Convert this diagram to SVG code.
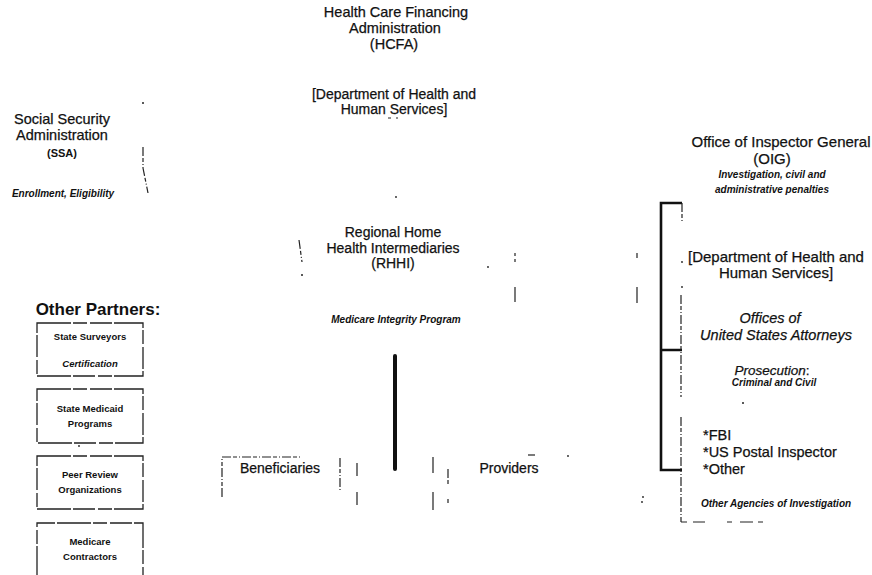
<svg xmlns="http://www.w3.org/2000/svg" width="872" height="575" viewBox="0 0 872 575">
<style>
text{font-family:"Liberation Sans",Arial,sans-serif;fill:#111;text-anchor:middle;stroke:#111;stroke-width:0.25}
.m{font-size:14px}
.h{font-size:14.5px}
.o{font-size:15px}
.si{font-size:10px;font-weight:bold;font-style:italic;stroke-width:0}
.it{font-style:italic}
.b{font-weight:bold;stroke-width:0}
.pb{font-size:9.5px;font-weight:bold;stroke-width:0}
.frag{stroke:#222;stroke-width:1.2;fill:none}
.dash{stroke:#222;stroke-width:1.2;fill:none;stroke-dasharray:9 2 4 2 1 2}
.box{stroke:#222;stroke-width:1.3;fill:none;stroke-dasharray:34 2 14 3 22 2}
.thick{stroke:#111;fill:none}
</style>
<rect width="872" height="575" fill="#fff"/>
<g id="hcfa">
<text class="h" x="396" y="17">Health Care Financing</text>
<text class="h" x="395" y="33">Administration</text>
<text class="h" x="394" y="49">(HCFA)</text>
<text class="m" x="394" y="99">[Department of Health and</text>
<text class="m" x="394" y="114">Human Services]</text>
</g>
<g id="ssa">
<text class="h" x="62" y="124">Social Security</text>
<text class="h" x="62" y="140">Administration</text>
<text class="b" x="62" y="157" font-size="11">(SSA)</text>
<text class="si" x="63" y="197">Enrollment, Eligibility</text>
</g>
<g id="oig">
<text class="o" x="781" y="147">Office of Inspector General</text>
<text class="o" x="772" y="164">(OIG)</text>
<text class="si" x="772" y="178">Investigation, civil and</text>
<text class="si" x="772" y="193">administrative penalties</text>
<text class="o" x="776" y="262">[Department of Health and</text>
<text class="o" x="776" y="278">Human Services]</text>
</g>
<g id="usattorneys">
<text class="h it" x="770" y="323">Offices of</text>
<text class="h it" x="776" y="340">United States Attorneys</text>
<text x="772" y="375" font-size="13.5"><tspan font-style="italic">Prosecution</tspan>:</text>
<text class="si" x="774" y="386" font-size="9.5">Criminal and Civil</text>
</g>
<g id="investigation">
<text class="h" x="703" y="440" style="text-anchor:start">*FBI</text>
<text class="h" x="703" y="457" style="text-anchor:start">*US Postal Inspector</text>
<text class="h" x="703" y="474" style="text-anchor:start">*Other</text>
<text class="si" x="776" y="507">Other Agencies of Investigation</text>
</g>
<g id="rhhi">
<text class="m" x="393" y="237">Regional Home</text>
<text class="m" x="393" y="253">Health Intermediaries</text>
<text class="m" x="393" y="268">(RHHI)</text>
<text class="si" x="396" y="323" font-size="9.5">Medicare Integrity Program</text>
</g>
<g id="beneficiaries">
<text class="m" x="280" y="473">Beneficiaries</text>
</g>
<g id="providers">
<text class="m" x="509" y="473">Providers</text>
</g>
<g id="partners">
<text class="b" x="98" y="315" font-size="17">Other Partners:</text>
</g>
<g id="state-surveyors">
<rect class="box" x="37" y="323" width="106" height="53"/>
<text class="pb" x="90" y="340">State Surveyors</text>
<text class="pb it" x="90" y="367">Certification</text>
</g>
<g id="state-medicaid">
<rect class="box" x="37" y="389" width="106" height="54"/>
<text class="pb" x="90" y="412">State Medicaid</text>
<text class="pb" x="90" y="427">Programs</text>
</g>
<g id="peer-review">
<rect class="box" x="37" y="456" width="106" height="53"/>
<text class="pb" x="90" y="478">Peer Review</text>
<text class="pb" x="90" y="493">Organizations</text>
</g>
<g id="medicare-contractors">
<path class="box" d="M37 580 V523 H143 V580"/>
<text class="pb" x="90" y="545">Medicare</text>
<text class="pb" x="90" y="560">Contractors</text>
</g>
<g id="connectors">
<path class="thick" stroke-width="2.6" d="M682 203 H661 V470 H682 M661 350 H682"/>
<line class="thick" x1="395" y1="356" x2="395" y2="469" stroke-width="4" stroke-linecap="round"/>
<path class="dash" d="M682 203 V222 M681 295 V397 M681 417 V522"/>
<path class="frag" d="M681 522 h6 M693 522 h12 M727 522 h5 M740 522 h13 M758 522 h5"/>
<path class="dash" d="M143 147 V168 L148 193"/>
<path class="dash" d="M299 240 L302 262"/>
<path class="frag" d="M515 253 v3 M515 259 v3 M515 287 V302 M637 253 v5 M637 287 V303"/>
<path class="dash" d="M222 497 V457 H300"/>
<path class="dash" d="M340 458 V490"/>
<path class="frag" d="M357 463 V476 M357 492 V505 M433 457 V473 M433 492 V510"/>
<path class="dash" d="M448 469 V485 M448 499 V503"/>
<path class="frag" d="M528 455 h7"/>
<g fill="#222">
<circle cx="143" cy="103" r="1"/>
<circle cx="302" cy="275" r="1"/>
<circle cx="396" cy="197" r="0.9"/>
<circle cx="488" cy="267" r="0.9"/>
<circle cx="568" cy="456" r="0.9"/>
<circle cx="642" cy="502" r="0.9"/>
<circle cx="643" cy="497" r="0.9"/>
<circle cx="743" cy="403" r="1"/>
<circle cx="682" cy="262" r="0.9"/>
<circle cx="682" cy="287" r="0.9"/>
<circle cx="79" cy="446" r="0.9"/>
<path d="M388 118 h3 M396 118 h2" stroke="#222" stroke-width="1"/>
</g>
</g>
</svg>
